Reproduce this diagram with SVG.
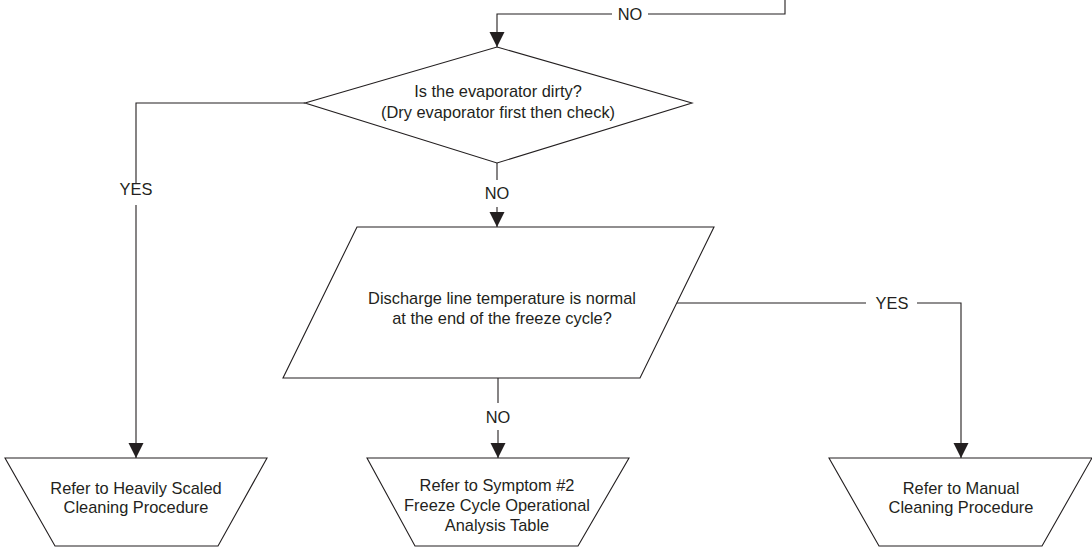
<svg xmlns="http://www.w3.org/2000/svg" width="1092" height="550" viewBox="0 0 1092 550">
<defs>
<marker id="arr" markerUnits="userSpaceOnUse" markerWidth="16" markerHeight="17" refX="15" refY="7.5" orient="auto">
<path d="M0,0 L15,7.5 L0,15 Z" fill="#231f20"/>
</marker>
<style>
.shape{fill:#fff;stroke:#231f20;stroke-width:1.1}
.line{fill:none;stroke:#231f20;stroke-width:1.1}
text{font-family:"Liberation Sans",Arial,sans-serif;font-size:16.4px;fill:#231f20;text-anchor:middle}
</style>
</defs>
<rect width="1092" height="550" fill="#fff"/>
<g id="connectors">
<polyline class="line" points="785,0 785,14 648,14"/>
<polyline class="line" points="612,14 497,14 497,47" marker-end="url(#arr)"/>
<text x="630" y="20">NO</text>
<polyline class="line" points="305,103 136,103 136,183"/>
<text x="136" y="195">YES</text>
<line class="line" x1="136" y1="205" x2="136" y2="458" marker-end="url(#arr)"/>
<line class="line" x1="497" y1="163" x2="497" y2="180"/>
<text x="497" y="199">NO</text>
<line class="line" x1="497" y1="207" x2="497" y2="227" marker-end="url(#arr)"/>
<polyline class="line" points="677,303 866,303"/>
<text x="892" y="309">YES</text>
<polyline class="line" points="917,303 961,303 961,458" marker-end="url(#arr)"/>
<line class="line" x1="498" y1="378" x2="498" y2="403"/>
<text x="498" y="423">NO</text>
<line class="line" x1="498" y1="430" x2="498" y2="458" marker-end="url(#arr)"/>
</g>
<g id="decision-evaporator">
<polygon class="shape" points="497,47 692,103 497,163 305,103"/>
<text x="498" y="97">Is the evaporator dirty?</text>
<text x="498" y="118">(Dry evaporator first then check)</text>
</g>
<g id="decision-discharge">
<polygon class="shape" points="357,227 714,227 640,378 283,378"/>
<text x="502" y="304">Discharge line temperature is normal</text>
<text x="502" y="324">at the end of the freeze cycle?</text>
</g>
<g id="end-heavily-scaled">
<polygon class="shape" points="5,458 267,458 218,546 55,546"/>
<text x="136" y="494">Refer to Heavily Scaled</text>
<text x="136" y="513">Cleaning Procedure</text>
</g>
<g id="end-symptom2">
<polygon class="shape" points="367,458 629,458 578,546 415,546"/>
<text x="497" y="491">Refer to Symptom #2</text>
<text x="497" y="511">Freeze Cycle Operational</text>
<text x="497" y="531">Analysis Table</text>
</g>
<g id="end-manual">
<polygon class="shape" points="829,458 1092,458 1042,546 879,546"/>
<text x="961" y="494">Refer to Manual</text>
<text x="961" y="513">Cleaning Procedure</text>
</g>
</svg>
